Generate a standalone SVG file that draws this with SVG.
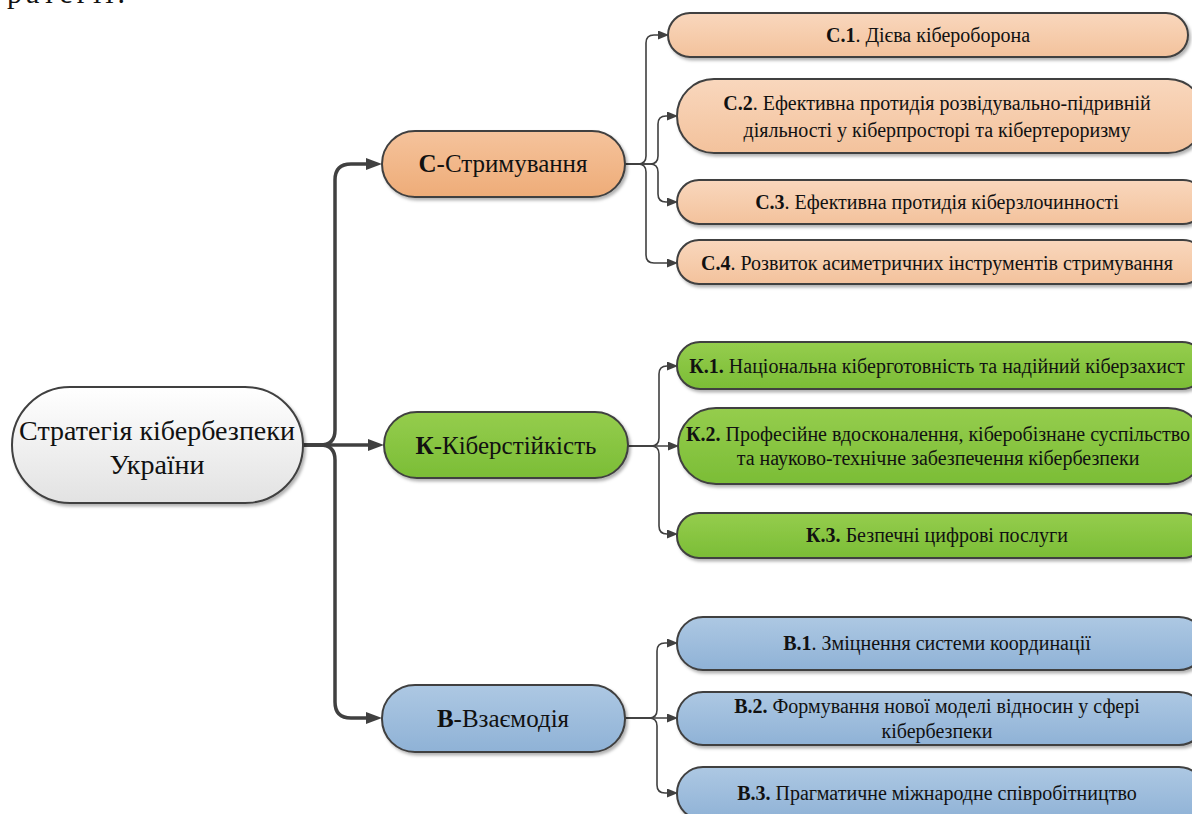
<svg xmlns="http://www.w3.org/2000/svg" width="1192" height="814" viewBox="0 0 1192 814" font-family="'Liberation Serif', 'DejaVu Serif', 'Times New Roman', serif">
<style>
text{font-family:'Liberation Serif','DejaVu Serif','Times New Roman',serif;fill:#111;}
.node{stroke:#404040;stroke-width:2;}
.leaf{font-size:20px;text-anchor:middle;}
.mid{font-size:25px;text-anchor:middle;}
.root{font-size:28px;text-anchor:middle;}
.trunk{fill:none;stroke:#404040;stroke-width:3.5;}
.branch{fill:none;stroke:#404040;stroke-width:1.6;}
.b{font-weight:bold;}
</style>
<defs>
<linearGradient id="gRoot" x1="0" y1="0" x2="0" y2="1"><stop offset="0" stop-color="#ffffff"/><stop offset="1" stop-color="#e2e2e2"/></linearGradient>
<linearGradient id="gCm" x1="0" y1="0" x2="0" y2="1"><stop offset="0" stop-color="#f5c39c"/><stop offset="1" stop-color="#eeac78"/></linearGradient>
<linearGradient id="gCl" x1="0" y1="0" x2="0" y2="1"><stop offset="0" stop-color="#f9d7bd"/><stop offset="1" stop-color="#f3c29c"/></linearGradient>
<linearGradient id="gK" x1="0" y1="0" x2="0" y2="1"><stop offset="0" stop-color="#95cd4d"/><stop offset="1" stop-color="#7bbd36"/></linearGradient>
<linearGradient id="gB" x1="0" y1="0" x2="0" y2="1"><stop offset="0" stop-color="#adc8e3"/><stop offset="1" stop-color="#8fb2d6"/></linearGradient>
<filter id="sh" x="-10%" y="-20%" width="125%" height="150%"><feDropShadow dx="2" dy="2.5" stdDeviation="1.5" flood-color="#000" flood-opacity="0.3"/></filter>
<marker id="aT" markerUnits="userSpaceOnUse" markerWidth="16" markerHeight="12" refX="6" refY="6" orient="auto"><path d="M0,0 L16,6 L0,12 z" fill="#404040"/></marker>
<marker id="aS" markerUnits="userSpaceOnUse" markerWidth="11" markerHeight="9" refX="4" refY="4.5" orient="auto"><path d="M0,0 L11,4.5 L0,9 z" fill="#404040"/></marker>
</defs>

<text x="7" y="3" font-size="30" textLength="118" lengthAdjust="spacing">ратегії.</text>

<g id="connectors">
<path class="trunk" marker-end="url(#aT)" d="M303,445 L320,445 Q335,445 335,430 L335,180 Q335,164 351,164 L372,164"/>
<path class="trunk" marker-end="url(#aT)" d="M303,445 L374,445"/>
<path class="trunk" marker-end="url(#aT)" d="M303,445 L320,445 Q335,445 335,460 L335,702 Q335,718 351,718 L372,718"/>
<path class="branch" marker-end="url(#aS)" d="M625,164 L638,164 Q646,164 646,156 L646,43 Q646,35 654,35 L662,35"/>
<path class="branch" marker-end="url(#aS)" d="M625,164 L650,164 Q658,164 658,156 L658,124 Q658,116 666,116 L671,116"/>
<path class="branch" marker-end="url(#aS)" d="M625,164 L650,164 Q658,164 658,172 L658,194 Q658,202 666,202 L671,202"/>
<path class="branch" marker-end="url(#aS)" d="M625,164 L638,164 Q646,164 646,172 L646,255 Q646,263 654,263 L671,263"/>
<path class="branch" marker-end="url(#aS)" d="M628,446 L651,446 Q659,446 659,438 L659,374 Q659,366 667,366 L671,366"/>
<path class="branch" marker-end="url(#aS)" d="M628,446 L672,446"/>
<path class="branch" marker-end="url(#aS)" d="M628,446 L651,446 Q659,446 659,454 L659,526 Q659,534 667,534 L671,534"/>
<path class="branch" marker-end="url(#aS)" d="M625,718 L649,718 Q657,718 657,710 L657,651 Q657,643 665,643 L671,643"/>
<path class="branch" marker-end="url(#aS)" d="M625,718 L671,718"/>
<path class="branch" marker-end="url(#aS)" d="M625,718 L649,718 Q657,718 657,726 L657,785 Q657,793 665,793 L671,793"/>
</g>

<g id="root">
<rect class="node" x="12" y="387" width="291" height="116" rx="58" fill="url(#gRoot)" filter="url(#sh)"/>
<text class="root" x="157" y="440">Стратегія кібербезпеки</text>
<text class="root" x="157" y="474">України</text>
</g>

<g id="node-C">
<rect class="node" x="382" y="131" width="243" height="66" rx="33" fill="url(#gCm)" filter="url(#sh)"/>
<text class="mid" x="503" y="172"><tspan class="b">С</tspan>-Стримування</text>
</g>
<g id="node-K">
<rect class="node" x="384" y="412" width="244" height="66" rx="33" fill="url(#gK)" filter="url(#sh)"/>
<text class="mid" x="506" y="454"><tspan class="b">К</tspan>-Кіберстійкість</text>
</g>
<g id="node-B">
<rect class="node" x="382" y="685" width="243" height="67" rx="33" fill="url(#gB)" filter="url(#sh)"/>
<text class="mid" x="503" y="727"><tspan class="b">В</tspan>-Взаємодія</text>
</g>

<g id="leaf-C1">
<rect class="node" x="668" y="13" width="520" height="44" rx="22" fill="url(#gCl)" filter="url(#sh)"/>
<text class="leaf" x="928" y="42"><tspan class="b">С.1</tspan>. Дієва кібероборона</text>
</g>
<g id="leaf-C2">
<rect class="node" x="677" y="79" width="528" height="74" rx="37" fill="url(#gCl)" filter="url(#sh)"/>
<text class="leaf" x="937" y="110"><tspan class="b">С.2</tspan>. Ефективна протидія розвідувально-підривній</text>
<text class="leaf" x="937" y="137">діяльності у кіберпросторі та кібертероризму</text>
</g>
<g id="leaf-C3">
<rect class="node" x="677" y="180" width="528" height="44" rx="22" fill="url(#gCl)" filter="url(#sh)"/>
<text class="leaf" x="937" y="209"><tspan class="b">С.3</tspan>. Ефективна протидія кіберзлочинності</text>
</g>
<g id="leaf-C4">
<rect class="node" x="677" y="240" width="528" height="44" rx="22" fill="url(#gCl)" filter="url(#sh)"/>
<text class="leaf" x="937" y="270"><tspan class="b">С.4</tspan>. Розвиток асиметричних інструментів стримування</text>
</g>

<g id="leaf-K1">
<rect class="node" x="677" y="342" width="528" height="47" rx="23" fill="url(#gK)" filter="url(#sh)"/>
<text class="leaf" x="937" y="373"><tspan class="b">К.1.</tspan> Національна кіберготовність та надійний кіберзахист</text>
</g>
<g id="leaf-K2">
<rect class="node" x="678" y="408" width="528" height="76" rx="38" fill="url(#gK)" filter="url(#sh)"/>
<text class="leaf" x="938" y="441"><tspan class="b">К.2.</tspan> Професійне вдосконалення, кіберобізнане суспільство</text>
<text class="leaf" x="938" y="465">та науково-технічне забезпечення кібербезпеки</text>
</g>
<g id="leaf-K3">
<rect class="node" x="677" y="513" width="528" height="45" rx="22" fill="url(#gK)" filter="url(#sh)"/>
<text class="leaf" x="937" y="542"><tspan class="b">К.3.</tspan> Безпечні цифрові послуги</text>
</g>

<g id="leaf-B1">
<rect class="node" x="677" y="617" width="528" height="53" rx="26" fill="url(#gB)" filter="url(#sh)"/>
<text class="leaf" x="937" y="650"><tspan class="b">В.1</tspan>. Зміцнення системи координації</text>
</g>
<g id="leaf-B2">
<rect class="node" x="677" y="692" width="528" height="53" rx="26" fill="url(#gB)" filter="url(#sh)"/>
<text class="leaf" x="937" y="713"><tspan class="b">В.2.</tspan> Формування нової моделі відносин у сфері</text>
<text class="leaf" x="937" y="738">кібербезпеки</text>
</g>
<g id="leaf-B3">
<rect class="node" x="677" y="767" width="528" height="53" rx="26" fill="url(#gB)" filter="url(#sh)"/>
<text class="leaf" x="937" y="800"><tspan class="b">В.3.</tspan> Прагматичне міжнародне співробітництво</text>
</g>
</svg>
